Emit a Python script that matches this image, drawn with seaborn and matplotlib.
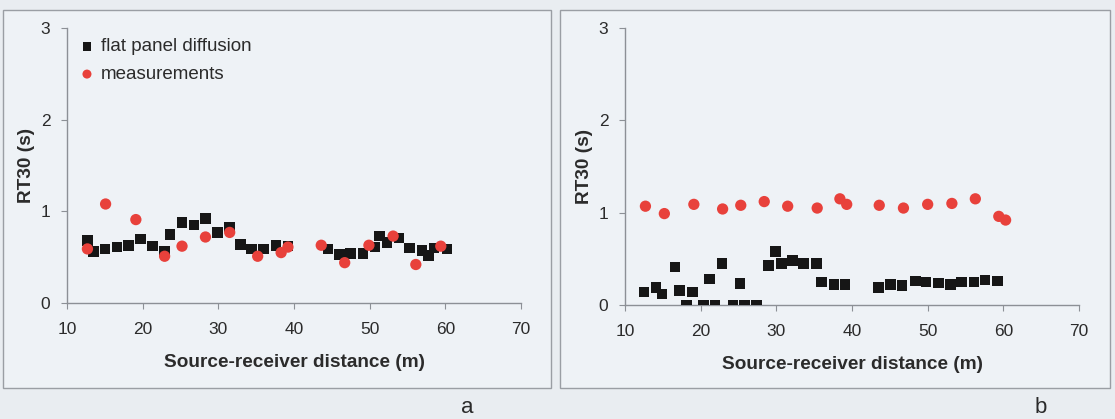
import numpy as np
import pandas as pd
import matplotlib
matplotlib.use("Agg")
import matplotlib.pyplot as plt
import seaborn as sns
from matplotlib.patches import Rectangle

# ---------------- data ----------------
# panel a: flat panel diffusion model
a_sim_x = [12.7, 13.5, 15.0, 16.6, 18.1, 19.7, 21.3, 22.9, 23.6, 25.2, 26.8, 28.3,
           29.9, 31.5, 32.9, 34.4, 36.0, 37.6, 39.2, 44.5, 46.0, 47.5, 49.1, 50.7,
           51.3, 52.3, 53.9, 55.3, 56.9, 57.8, 58.5, 60.2]
a_sim_y = [0.68, 0.56, 0.59, 0.61, 0.63, 0.70, 0.62, 0.56, 0.75, 0.88, 0.85, 0.92,
           0.77, 0.83, 0.64, 0.59, 0.59, 0.63, 0.62, 0.59, 0.53, 0.54, 0.54, 0.61,
           0.73, 0.66, 0.71, 0.60, 0.57, 0.52, 0.60, 0.59]
# panel a: measurements
a_meas_x = [12.7, 15.1, 19.1, 22.9, 25.2, 28.3, 31.5, 35.2, 38.3, 39.2, 43.6, 46.7,
            49.9, 53.1, 56.1, 59.4]
a_meas_y = [0.59, 1.08, 0.91, 0.51, 0.62, 0.72, 0.77, 0.51, 0.55, 0.61, 0.63, 0.44,
            0.63, 0.73, 0.42, 0.62]

# panel b: flat panel diffusion model
b_sim_x = [12.5, 14.1, 14.9, 16.6, 17.2, 18.1, 18.9, 20.4, 21.2, 21.9, 22.8, 24.3,
           25.2, 25.8, 27.4, 29.0, 29.9, 30.7, 32.1, 33.6, 35.3, 36.0, 37.6, 39.1,
           43.5, 45.1, 46.6, 48.4, 49.8, 51.4, 53.0, 54.5, 56.1, 57.6, 59.2]
b_sim_y = [0.14, 0.19, 0.12, 0.41, 0.16, 0.00, 0.14, 0.00, 0.28, 0.00, 0.45, 0.00,
           0.23, 0.00, 0.00, 0.43, 0.58, 0.45, 0.48, 0.45, 0.45, 0.25, 0.22, 0.22,
           0.19, 0.22, 0.21, 0.26, 0.25, 0.24, 0.22, 0.25, 0.25, 0.27, 0.26]
# panel b: measurements
b_meas_x = [12.7, 15.2, 19.1, 22.9, 25.3, 28.4, 31.5, 35.4, 38.4, 39.3, 43.6, 46.8,
            50.0, 53.2, 56.3, 59.4, 60.3]
b_meas_y = [1.07, 0.99, 1.09, 1.04, 1.08, 1.12, 1.07, 1.05, 1.15, 1.09, 1.08, 1.05,
            1.09, 1.10, 1.15, 0.96, 0.92]

series_names = ["flat panel diffusion", "measurements"]
x_ticks = [10, 20, 30, 40, 50, 60, 70]
y_ticks = [0, 1, 2, 3]
x_label = "Source-receiver distance (m)"
y_label = "RT30 (s)"
panel_tags = ["a", "b"]

# ---------------- style ----------------
sns.set_style("ticks")
plt.rcParams["font.family"] = ["Liberation Sans", "DejaVu Sans"]

BG = "#e9edf1"
INNER = "#eef2f6"
SPINE = "#8c9096"
TXT = "#2b2b2b"
RED = "#e8413b"
BLACK = "#161616"

fig = plt.figure(figsize=(11.15, 4.19), dpi=100, facecolor=BG)
W, H = 1115, 419

def px_rect(x0, y0, x1, y1):
    return [x0 / W, 1 - y1 / H, (x1 - x0) / W, (y1 - y0) / H]

# panel frames
for (x0, y0, x1, y1) in [(3, 10, 551, 388), (560, 10, 1110, 388)]:
    r = Rectangle((x0 / W, 1 - y1 / H), (x1 - x0) / W, (y1 - y0) / H,
                  transform=fig.transFigure, facecolor=INNER,
                  edgecolor="#9a9ea4", linewidth=1.0, zorder=-5)
    fig.patches.append(r)

ax_a = fig.add_axes(px_rect(67, 28, 521, 303))
ax_b = fig.add_axes(px_rect(625, 28, 1079, 305))

panels = [
    (ax_a, a_sim_x, a_sim_y, a_meas_x, a_meas_y, True),
    (ax_b, b_sim_x, b_sim_y, b_meas_x, b_meas_y, False),
]

for ax, sx, sy, mx, my, show_leg in panels:
    ax.set_zorder(2)
    ax.set_facecolor("none")
    df_s = pd.DataFrame({"x": sx, "y": sy, "series": series_names[0]})
    df_m = pd.DataFrame({"x": mx, "y": my, "series": series_names[1]})
    sns.scatterplot(data=df_s, x="x", y="y", marker="s", color=BLACK, s=58,
                    edgecolor="none", linewidth=0, ax=ax, zorder=3,
                    label=series_names[0] if show_leg else None, legend=False)
    sns.scatterplot(data=df_m, x="x", y="y", marker="o", color=RED, s=66,
                    edgecolor="none", linewidth=0, ax=ax, zorder=4,
                    label=series_names[1] if show_leg else None, legend=False)
    ax.set_xlim(10, 70)
    ax.set_ylim(0, 3)
    ax.set_xticks(x_ticks)
    ax.set_yticks(y_ticks)
    ax.set_xlabel(x_label, fontsize=13.7, fontweight="bold", color=TXT, labelpad=12)
    ax.set_ylabel(y_label, fontsize=13.7, fontweight="bold", color=TXT, labelpad=4)
    for side in ["top", "right"]:
        ax.spines[side].set_visible(False)
    for side in ["left", "bottom"]:
        ax.spines[side].set_color(SPINE)
        ax.spines[side].set_linewidth(1.0)
    ax.tick_params(axis="both", colors=SPINE, labelcolor=TXT, labelsize=12.5,
                   length=4, width=0.8, direction="out")
    ax.tick_params(axis="x", pad=10)
    ax.tick_params(axis="y", pad=8)
    if show_leg:
        leg = ax.legend(loc="upper left", bbox_to_anchor=(0.013, 0.99), frameon=False,
                        fontsize=13.5, handlelength=0.7, handletextpad=0.4,
                        labelspacing=0.56, borderaxespad=0.0, markerscale=0.8)
        for t in leg.get_texts():
            t.set_color(TXT)

fig.text(467 / W, 1 - 407 / H, panel_tags[0], fontsize=16, color=TXT,
         ha="center", va="center")
fig.text(1041 / W, 1 - 407 / H, panel_tags[1], fontsize=16, color=TXT,
         ha="center", va="center")

fig.savefig("out.png", dpi=100, facecolor=BG)
